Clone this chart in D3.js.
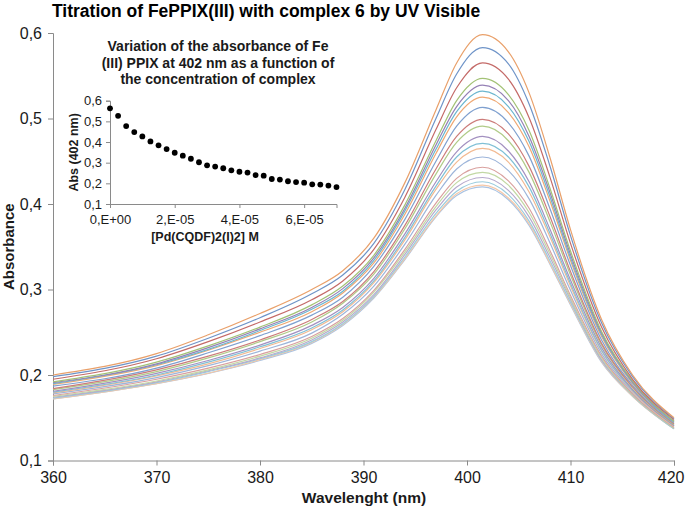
<!DOCTYPE html>
<html>
<head>
<meta charset="utf-8">
<script src="https://cdn.jsdelivr.net/npm/d3@7/dist/d3.min.js"></script>
<style>
  html, body { margin: 0; padding: 0; background: #fff; }
  svg { display: block; font-family: "Liberation Sans", Arial, sans-serif; }
</style>
</head>
<body>
<svg id="chart" width="685" height="509"></svg>
<script>
// ---------- DATA ----------
const wavelengths = [360, 370, 375, 380, 385, 388, 391, 394, 397, 399, 401.5, 404, 406, 408, 410, 413, 416, 420];

const spectra = [
  [0.200, 0.225, 0.247, 0.272, 0.300, 0.322, 0.360, 0.425, 0.510, 0.565, 0.598, 0.578, 0.530, 0.455, 0.370, 0.265, 0.200, 0.150],
  [0.198, 0.222, 0.243, 0.267, 0.295, 0.317, 0.354, 0.417, 0.500, 0.552, 0.583, 0.564, 0.517, 0.445, 0.363, 0.261, 0.198, 0.149],
  [0.195, 0.219, 0.239, 0.262, 0.288, 0.310, 0.347, 0.408, 0.487, 0.536, 0.565, 0.546, 0.501, 0.432, 0.354, 0.256, 0.195, 0.148],
  [0.192, 0.215, 0.234, 0.256, 0.282, 0.304, 0.340, 0.399, 0.474, 0.521, 0.547, 0.528, 0.486, 0.419, 0.345, 0.251, 0.193, 0.146],
  [0.191, 0.213, 0.232, 0.254, 0.279, 0.301, 0.337, 0.395, 0.469, 0.514, 0.539, 0.521, 0.479, 0.414, 0.341, 0.249, 0.192, 0.146],
  [0.190, 0.212, 0.230, 0.252, 0.277, 0.298, 0.334, 0.392, 0.464, 0.508, 0.532, 0.514, 0.473, 0.409, 0.337, 0.247, 0.191, 0.145],
  [0.189, 0.211, 0.229, 0.250, 0.274, 0.296, 0.331, 0.388, 0.459, 0.502, 0.525, 0.507, 0.467, 0.404, 0.334, 0.245, 0.190, 0.145],
  [0.187, 0.208, 0.226, 0.246, 0.270, 0.291, 0.327, 0.382, 0.450, 0.491, 0.513, 0.495, 0.456, 0.395, 0.328, 0.241, 0.188, 0.144],
  [0.184, 0.206, 0.222, 0.241, 0.265, 0.286, 0.321, 0.375, 0.441, 0.479, 0.499, 0.482, 0.444, 0.386, 0.321, 0.237, 0.186, 0.143],
  [0.183, 0.204, 0.220, 0.239, 0.262, 0.284, 0.318, 0.371, 0.435, 0.472, 0.491, 0.474, 0.437, 0.380, 0.317, 0.235, 0.185, 0.142],
  [0.181, 0.202, 0.217, 0.235, 0.258, 0.279, 0.313, 0.365, 0.426, 0.461, 0.479, 0.462, 0.426, 0.371, 0.311, 0.232, 0.183, 0.141],
  [0.180, 0.200, 0.215, 0.233, 0.255, 0.276, 0.310, 0.361, 0.421, 0.455, 0.471, 0.455, 0.420, 0.366, 0.307, 0.229, 0.182, 0.141],
  [0.179, 0.199, 0.213, 0.231, 0.253, 0.274, 0.308, 0.358, 0.417, 0.449, 0.465, 0.449, 0.414, 0.362, 0.304, 0.228, 0.181, 0.140],
  [0.178, 0.197, 0.211, 0.228, 0.249, 0.271, 0.304, 0.353, 0.410, 0.441, 0.455, 0.439, 0.406, 0.355, 0.299, 0.225, 0.180, 0.140],
  [0.176, 0.195, 0.208, 0.224, 0.245, 0.266, 0.299, 0.347, 0.401, 0.430, 0.443, 0.427, 0.395, 0.346, 0.293, 0.222, 0.178, 0.139],
  [0.175, 0.193, 0.206, 0.222, 0.243, 0.264, 0.297, 0.344, 0.397, 0.425, 0.437, 0.422, 0.390, 0.342, 0.290, 0.220, 0.177, 0.138],
  [0.174, 0.192, 0.205, 0.220, 0.241, 0.262, 0.294, 0.341, 0.393, 0.420, 0.431, 0.416, 0.385, 0.338, 0.288, 0.218, 0.177, 0.138],
  [0.173, 0.191, 0.204, 0.219, 0.239, 0.260, 0.292, 0.338, 0.389, 0.415, 0.426, 0.411, 0.380, 0.334, 0.285, 0.217, 0.176, 0.137],
  [0.172, 0.190, 0.202, 0.218, 0.238, 0.259, 0.291, 0.336, 0.386, 0.412, 0.422, 0.407, 0.377, 0.331, 0.283, 0.216, 0.175, 0.137],
  [0.172, 0.190, 0.202, 0.217, 0.237, 0.258, 0.290, 0.335, 0.385, 0.410, 0.420, 0.405, 0.375, 0.330, 0.282, 0.215, 0.175, 0.137]
];

const spectrumColors = [
  "#E9A06A", "#6F94C8", "#C46A68", "#A3C276", "#9580B5", "#6BB6CF",
  "#EFA873", "#7FA0CF", "#CC7C7A", "#B0CB88", "#A390C0", "#80C0D6",
  "#F2BA92", "#9DB5DA", "#D9A09E", "#C2D8A4", "#B7AACD", "#9ACCDD",
  "#F5C8A8", "#A9C3E3"
];

const yTicks = [0.1, 0.2, 0.3, 0.4, 0.5, 0.6];
const xTicks = [360, 370, 380, 390, 400, 410, 420];

const insetConc = [0, 2.5e-6, 5e-6, 7.5e-6, 1e-5, 1.25e-5, 1.5e-5, 1.75e-5, 2e-5, 2.25e-5,
  2.5e-5, 2.75e-5, 3e-5, 3.25e-5, 3.5e-5, 3.75e-5, 4e-5, 4.25e-5, 4.5e-5, 4.75e-5,
  5e-5, 5.25e-5, 5.5e-5, 5.75e-5, 6e-5, 6.25e-5, 6.5e-5, 6.75e-5, 7e-5];
const insetAbs = [0.563, 0.527, 0.477, 0.448, 0.427, 0.403, 0.384, 0.366, 0.348, 0.334,
  0.319, 0.302, 0.287, 0.281, 0.273, 0.263, 0.256, 0.252, 0.240, 0.237,
  0.221, 0.218, 0.210, 0.206, 0.203, 0.195, 0.194, 0.189, 0.182];
const insetXTicks = [0, 2e-5, 4e-5, 6e-5];
const insetXTickLabels = ["0,E+00", "2,E-05", "4,E-05", "6,E-05"];
const insetYTicks = [0.1, 0.2, 0.3, 0.4, 0.5, 0.6];
const insetTitleLines = ["Variation of the absorbance of Fe", "(III) PPIX at 402 nm as a function of", "the concentration of complex"];

// ---------- DRAW ----------
const svg = d3.select("#chart");
const axisColor = "#8a8a8a";
const textColor = "#1a1a1a";
const comma = v => d3.format(".1f")(v).replace(".", ",");

// main scales
const x = d3.scaleLinear().domain([360, 420]).range([53, 674]);
const y = d3.scaleLinear().domain([0.1, 0.6]).range([460.5, 33]);

// title
svg.append("text")
  .attr("x", 52).attr("y", 17)
  .attr("font-size", 17.5).attr("font-weight", "bold").attr("fill", "#000")
  .text("Titration of FePPIX(III) with complex 6 by UV Visible");

// axes
const yAxis = d3.axisLeft(y).tickValues(yTicks).tickSize(5).tickPadding(6).tickFormat(comma);
const gy = svg.append("g").attr("transform", `translate(${x.range()[0]},0)`).call(yAxis);
const xAxis = d3.axisBottom(x).tickValues(xTicks).tickSize(5).tickPadding(6).tickFormat(d3.format("d"));
const gx = svg.append("g").attr("transform", `translate(0,${y.range()[0]})`).call(xAxis);
[gx, gy].forEach(g => {
  g.select(".domain").attr("stroke", axisColor);
  g.selectAll(".tick line").attr("stroke", axisColor);
  g.selectAll(".tick text").attr("font-size", 16).attr("fill", textColor)
    .attr("font-family", "Liberation Sans, Arial, sans-serif");
});
gx.selectAll(".tick text").filter(d => d === 420).attr("text-anchor", "end").attr("dx", 10);

svg.append("text")
  .attr("transform", `translate(14,${(y.range()[0] + y.range()[1]) / 2}) rotate(-90)`)
  .attr("text-anchor", "middle").attr("font-size", 15).attr("font-weight", "bold").attr("fill", textColor)
  .text("Absorbance");
svg.append("text")
  .attr("x", 364).attr("y", 503)
  .attr("text-anchor", "middle").attr("font-size", 15.5).attr("font-weight", "bold").attr("fill", textColor)
  .text("Wavelenght (nm)");

// spectra
const line = d3.line()
  .x((d, i) => x(wavelengths[i]))
  .y(d => y(d))
  .curve(d3.curveMonotoneX);
svg.append("g").selectAll("path")
  .data(spectra.map((s, i) => ({ s, i })).reverse())
  .join("path")
  .attr("d", d => line(d.s))
  .attr("fill", "none")
  .attr("stroke", d => spectrumColors[d.i])
  .attr("stroke-width", 1.2);

// ---------- INSET ----------
const ix = d3.scaleLinear().domain([0, 7e-5]).range([110, 336.5]);
const iy = d3.scaleLinear().domain([0.1, 0.6]).range([204, 100.7]);

const it = svg.append("text").attr("text-anchor", "middle")
  .attr("font-size", 14).attr("font-weight", "bold").attr("fill", textColor);
insetTitleLines.forEach((t, k) => {
  it.append("tspan").attr("x", 218).attr("y", 51 + k * 16.5).text(t);
});

const iyAxis = d3.axisLeft(iy).tickValues(insetYTicks).tickSize(4).tickPadding(4).tickFormat(comma);
const giy = svg.append("g").attr("transform", `translate(${ix.range()[0]},0)`).call(iyAxis);
const ixAxis = d3.axisBottom(ix).tickValues(insetXTicks).tickSize(4).tickPadding(7)
  .tickFormat((d, i) => insetXTickLabels[i]);
const gix = svg.append("g").attr("transform", `translate(0,${iy.range()[0]})`).call(ixAxis);
[gix, giy].forEach(g => {
  g.select(".domain").attr("stroke", axisColor);
  g.selectAll(".tick line").attr("stroke", axisColor);
  g.selectAll(".tick text").attr("font-size", 13).attr("fill", textColor)
    .attr("font-family", "Liberation Sans, Arial, sans-serif");
});

svg.append("text")
  .attr("transform", `translate(78,${(iy.range()[0] + iy.range()[1]) / 2}) rotate(-90)`)
  .attr("text-anchor", "middle").attr("font-size", 12.5).attr("font-weight", "bold").attr("fill", textColor)
  .text("Abs (402 nm)");
svg.append("text")
  .attr("x", 205).attr("y", 241)
  .attr("text-anchor", "middle").attr("font-size", 12.5).attr("font-weight", "bold").attr("fill", textColor)
  .text("[Pd(CQDF)2(I)2] M");

svg.append("g").selectAll("circle")
  .data(insetConc.map((c, i) => ({ c, a: insetAbs[i] })))
  .join("circle")
  .attr("cx", d => ix(d.c))
  .attr("cy", d => iy(d.a))
  .attr("r", 2.9)
  .attr("fill", "#000");
</script>
</body>
</html>
